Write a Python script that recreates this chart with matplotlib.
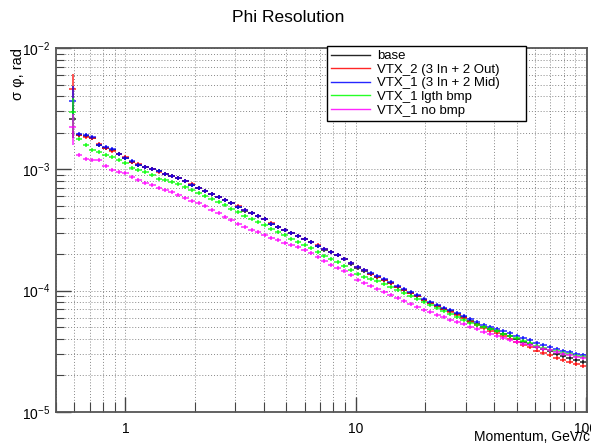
import numpy as np
import matplotlib
matplotlib.use('Agg')
from matplotlib import pyplot as plt
from matplotlib.ticker import LogLocator, FixedLocator, NullFormatter, FuncFormatter

plt.rcParams['font.family'] = ['Liberation Sans', 'DejaVu Sans']
plt.rcParams['mathtext.fontset'] = 'custom'
plt.rcParams['mathtext.rm'] = 'Liberation Sans'

# momentum bin centres, GeV/c
momentum = [0.59, 0.63, 0.674, 0.72, 0.769, 0.822, 0.878, 0.938, 1.0, 1.07,
            1.14, 1.22, 1.31, 1.4, 1.49, 1.59, 1.7, 1.82, 1.94, 2.08,
            2.22, 2.37, 2.54, 2.71, 2.89, 3.09, 3.3, 3.53, 3.77, 4.03,
            4.31, 4.6, 4.92, 5.26, 5.62, 6.0, 6.41, 6.85, 7.32, 7.82,
            8.36, 8.93, 9.54, 10.2, 10.9, 11.6, 12.4, 13.3, 14.2, 15.2,
            16.2, 17.3, 18.5, 19.8, 21.1, 22.6, 24.1, 25.8, 27.6, 29.4,
            31.5, 33.6, 35.9, 38.4, 41.0, 43.8, 46.8, 50.0, 53.5, 57.1,
            61.0, 65.2, 69.7, 74.5, 79.6, 85.0, 90.9, 97.1]

# sigma phi, rad
base = [2.60e-3, 1.92e-3, 1.88e-3, 1.81e-3, 1.59e-3, 1.50e-3, 1.44e-3, 1.34e-3, 1.24e-3, 1.15e-3,
        1.085e-3, 1.045e-3, 1.006e-3, 9.68e-4, 9.15e-4, 8.81e-4, 8.48e-4, 8.01e-4, 7.42e-4, 7.01e-4,
        6.62e-4, 6.26e-4, 5.91e-4, 5.58e-4, 5.28e-4, 4.89e-4, 4.53e-4, 4.36e-4, 4.12e-4, 3.89e-4,
        3.54e-4, 3.34e-4, 3.16e-4, 2.98e-4, 2.82e-4, 2.66e-4, 2.52e-4, 2.33e-4, 2.16e-4, 2.08e-4,
        1.965e-4, 1.82e-4, 1.657e-4, 1.536e-4, 1.45e-4, 1.37e-4, 1.294e-4, 1.223e-4, 1.155e-4, 1.071e-4,
        1.011e-4, 9.55e-5, 9.03e-5, 8.37e-5, 7.90e-5, 7.46e-5, 7.05e-5, 6.79e-5, 6.41e-5, 6.06e-5,
        5.62e-5, 5.30e-5, 5.01e-5, 4.83e-5, 4.64e-5, 4.39e-5, 4.22e-5, 3.99e-5, 3.77e-5, 3.63e-5,
        3.43e-5, 3.30e-5, 3.18e-5, 3.00e-5, 2.89e-5, 2.78e-5, 2.68e-5, 2.58e-5]

vtx2_out = [4.59e-3, 1.92e-3, 1.85e-3, 1.81e-3, 1.62e-3, 1.50e-3, 1.42e-3, 1.34e-3, 1.26e-3, 1.15e-3,
            1.11e-3, 1.045e-3, 1.006e-3, 9.50e-4, 9.15e-4, 8.81e-4, 8.48e-4, 8.01e-4, 7.56e-4, 7.01e-4,
            6.62e-4, 6.26e-4, 5.91e-4, 5.58e-4, 5.28e-4, 4.98e-4, 4.62e-4, 4.36e-4, 4.12e-4, 3.89e-4,
            3.61e-4, 3.34e-4, 3.16e-4, 2.98e-4, 2.82e-4, 2.66e-4, 2.52e-4, 2.37e-4, 2.20e-4, 2.08e-4,
            1.965e-4, 1.82e-4, 1.69e-4, 1.566e-4, 1.478e-4, 1.37e-4, 1.294e-4, 1.223e-4, 1.155e-4, 1.071e-4,
            1.011e-4, 9.55e-5, 9.03e-5, 8.37e-5, 7.90e-5, 7.46e-5, 7.05e-5, 6.66e-5, 6.29e-5, 5.95e-5,
            5.51e-5, 5.20e-5, 4.92e-5, 4.64e-5, 4.47e-5, 4.22e-5, 4.03e-5, 3.77e-5, 3.56e-5, 3.43e-5,
            3.21e-5, 3.06e-5, 2.94e-5, 2.78e-5, 2.68e-5, 2.58e-5, 2.48e-5, 2.39e-5]

vtx1_mid = [3.66e-3, 1.955e-3, 1.92e-3, 1.846e-3, 1.587e-3, 1.527e-3, 1.47e-3, 1.337e-3, 1.24e-3, 1.171e-3,
            1.085e-3, 1.045e-3, 1.006e-3, 9.68e-4, 9.15e-4, 8.81e-4, 8.48e-4, 8.01e-4, 7.42e-4, 7.01e-4,
            6.62e-4, 6.26e-4, 5.91e-4, 5.58e-4, 5.28e-4, 4.89e-4, 4.62e-4, 4.36e-4, 4.12e-4, 3.89e-4,
            3.54e-4, 3.34e-4, 3.16e-4, 2.98e-4, 2.82e-4, 2.66e-4, 2.52e-4, 2.33e-4, 2.20e-4, 2.08e-4,
            1.965e-4, 1.82e-4, 1.69e-4, 1.566e-4, 1.478e-4, 1.396e-4, 1.319e-4, 1.246e-4, 1.177e-4, 1.092e-4,
            1.03e-4, 9.73e-5, 9.20e-5, 8.53e-5, 8.05e-5, 7.60e-5, 7.19e-5, 6.92e-5, 6.53e-5, 6.18e-5,
            5.84e-5, 5.51e-5, 5.20e-5, 5.01e-5, 4.83e-5, 4.64e-5, 4.47e-5, 4.22e-5, 4.07e-5, 3.92e-5,
            3.70e-5, 3.56e-5, 3.43e-5, 3.30e-5, 3.18e-5, 3.12e-5, 3.00e-5, 2.94e-5]

vtx1_lgth = [2.97e-3, 1.777e-3, 1.587e-3, 1.442e-3, 1.388e-3, 1.312e-3, 1.264e-3, 1.194e-3, 1.127e-3, 1.025e-3,
             9.87e-4, 9.50e-4, 8.98e-4, 8.32e-4, 8.16e-4, 7.86e-4, 7.56e-4, 7.14e-4, 6.75e-4, 6.38e-4,
             6.02e-4, 5.69e-4, 5.38e-4, 5.08e-4, 4.71e-4, 4.44e-4, 4.12e-4, 3.89e-4, 3.68e-4, 3.47e-4,
             3.22e-4, 3.04e-4, 2.87e-4, 2.66e-4, 2.52e-4, 2.37e-4, 2.24e-4, 2.08e-4, 1.928e-4, 1.82e-4,
             1.721e-4, 1.596e-4, 1.478e-4, 1.37e-4, 1.294e-4, 1.246e-4, 1.20e-4, 1.133e-4, 1.071e-4, 1.011e-4,
             9.55e-5, 9.03e-5, 8.53e-5, 8.05e-5, 7.60e-5, 7.19e-5, 6.79e-5, 6.41e-5, 6.06e-5, 5.73e-5,
             5.41e-5, 5.20e-5, 5.01e-5, 4.83e-5, 4.64e-5, 4.39e-5, 4.22e-5, 4.07e-5, 3.84e-5, 3.70e-5,
             3.50e-5, 3.37e-5, 3.24e-5, 3.18e-5, 3.06e-5, 3.00e-5, 2.89e-5, 2.84e-5]

vtx1_nobmp = [2.23e-3, 1.312e-3, 1.217e-3, 1.194e-3, 1.194e-3, 1.065e-3, 9.87e-4, 9.50e-4, 9.32e-4, 8.64e-4,
              8.16e-4, 7.71e-4, 7.42e-4, 7.01e-4, 6.75e-4, 6.50e-4, 6.14e-4, 5.80e-4, 5.48e-4, 5.28e-4,
              4.98e-4, 4.62e-4, 4.36e-4, 4.04e-4, 3.82e-4, 3.54e-4, 3.34e-4, 3.16e-4, 3.04e-4, 2.87e-4,
              2.71e-4, 2.61e-4, 2.47e-4, 2.37e-4, 2.29e-4, 2.16e-4, 2.04e-4, 1.89e-4, 1.752e-4, 1.626e-4,
              1.536e-4, 1.45e-4, 1.344e-4, 1.223e-4, 1.155e-4, 1.092e-4, 1.03e-4, 9.73e-5, 9.20e-5, 8.69e-5,
              8.21e-5, 7.75e-5, 7.32e-5, 6.92e-5, 6.66e-5, 6.29e-5, 6.06e-5, 5.73e-5, 5.51e-5, 5.30e-5,
              5.01e-5, 4.83e-5, 4.55e-5, 4.39e-5, 4.22e-5, 4.07e-5, 3.92e-5, 3.77e-5, 3.63e-5, 3.56e-5,
              3.43e-5, 3.30e-5, 3.24e-5, 3.12e-5, 3.00e-5, 2.94e-5, 2.84e-5, 2.78e-5]

labels = ['base', 'VTX_2 (3 In + 2 Out)', 'VTX_1 (3 In + 2 Mid)', 'VTX_1 lgth bmp', 'VTX_1 no bmp']
colors = ['black', 'red', 'blue', '#00ff00', 'magenta']
series = [base, vtx2_out, vtx1_mid, vtx1_lgth, vtx1_nobmp]
first_err = [0.8e-3, 1.5e-3, 1.2e-3, 0.9e-3, 0.65e-3]  # the lowest bin has big errors
rel_err = 0.035
half_bin = 1.0337  # log bins, half width as a ratio

fig = plt.figure(figsize=(5.91, 4.46), dpi=100)
ax = fig.add_axes([56 / 591, 34 / 446, 531 / 591, 364 / 446])

x = np.array(momentum)
xerr = [x - x / half_bin, x * half_bin - x]
for vals, c, lab, e0 in zip(series, colors, labels, first_err):
    y = np.array(vals)
    yerr = y * rel_err
    yerr[0] = e0
    ax.errorbar(x, y, xerr=xerr, yerr=yerr, fmt='none', ecolor=c, elinewidth=1.1,
                capsize=0, alpha=0.85)
    ax.plot([], [], color=c, lw=1.0, alpha=0.85, label=lab)

ax.set_xscale('log')
ax.set_yscale('log')
ax.set_xlim(0.5, 101)
ax.set_ylim(1e-5, 1e-2)

ax.xaxis.set_major_locator(FixedLocator([1, 10, 100]))
ax.xaxis.set_minor_locator(LogLocator(base=10, subs=np.arange(2, 10)))
ax.xaxis.set_major_formatter(FuncFormatter(lambda v, p: '%g' % v))
ax.xaxis.set_minor_formatter(NullFormatter())
ax.yaxis.set_major_locator(LogLocator(base=10))
ax.yaxis.set_minor_locator(LogLocator(base=10, subs=np.arange(2, 10)))
ax.yaxis.set_major_formatter(FuncFormatter(lambda v, p: r'$10^{%d}$' % round(np.log10(v))))
ax.yaxis.set_minor_formatter(NullFormatter())

ax.tick_params(which='both', direction='in', colors='#444444', labelcolor='black', labelsize=10)
ax.tick_params(axis='x', which='major', length=11, width=1, pad=7)
ax.tick_params(axis='x', which='minor', length=7, width=0.8)
ax.tick_params(axis='y', which='major', length=11, width=1, pad=4)
ax.tick_params(axis='y', which='minor', length=6, width=0.8)

ax.grid(True, which='both', color='#888888', linestyle=(0, (1, 2)), linewidth=0.7)
for s in ax.spines.values():
    s.set_color('#555555')
    s.set_linewidth(1.3)

fig.text(590 / 591, 1 - 437 / 446, 'Momentum, GeV/c', ha='right', va='center', fontsize=10)
ax.set_ylabel('σ φ, rad', loc='top', fontsize=10.5, labelpad=-2)
fig.text(288 / 591, 0.96, 'Phi Resolution', ha='center', va='center', fontsize=12.5)

leg = ax.legend(loc='upper left', bbox_to_anchor=(0.511, 0.824, 0.374, 0.181), mode='expand',
                fontsize=9.5, frameon=True, fancybox=False, framealpha=1, edgecolor='black',
                borderpad=0.3, labelspacing=0.1, handlelength=2.9, handletextpad=0.6,
                borderaxespad=0)
leg.get_frame().set_linewidth(1.0)

fig.savefig('out.png', dpi=100)
